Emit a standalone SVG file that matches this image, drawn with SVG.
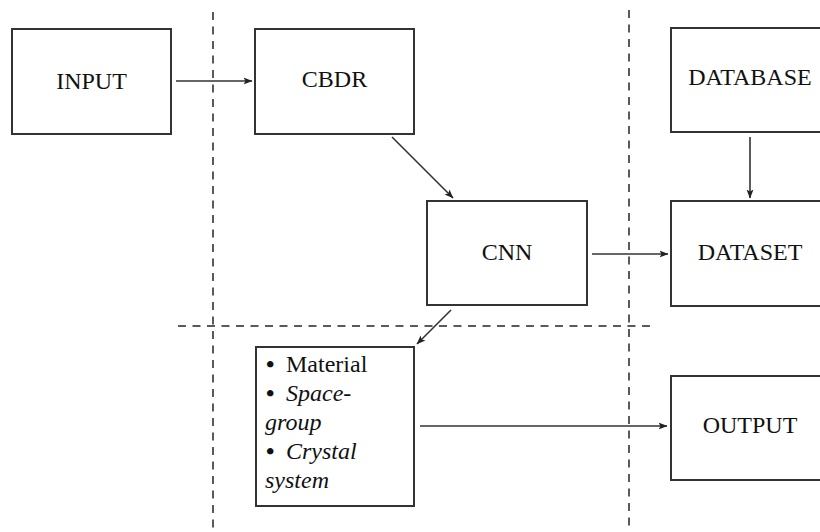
<svg xmlns="http://www.w3.org/2000/svg" width="820" height="532" viewBox="0 0 820 532">
<style>
.box{fill:#fff;stroke:#333;stroke-width:2}
.lbl{font-family:"Liberation Serif","Times New Roman",serif;font-size:24px;fill:#111;text-anchor:middle}
.lst{font-family:"Liberation Serif","Times New Roman",serif;font-size:24px;fill:#111}
.it{font-style:italic}
.bul{font-weight:bold}
.conn{stroke:#333;stroke-width:1.6;fill:none;marker-end:url(#ah)}
.dash{stroke:#5a5a5a;stroke-width:2;stroke-dasharray:8 6.5;fill:none}
</style>
<defs>
<marker id="ah" markerUnits="userSpaceOnUse" markerWidth="9" markerHeight="9" viewBox="0 0 9 9" refX="8.5" refY="4.5" orient="auto">
<path d="M0,1 L9,4.5 L0,8 L2,4.5 Z" fill="#222"/>
</marker>
</defs>
<g id="separators">
<line class="dash" x1="213" y1="12" x2="213" y2="532"/>
<line class="dash" x1="629" y1="10" x2="629" y2="532"/>
<line class="dash" x1="178" y1="326" x2="656" y2="326"/>
</g>
<g id="input"><rect class="box" x="12" y="29" width="159" height="105"/><text class="lbl" x="91.5" y="89">INPUT</text></g>
<g id="cbdr"><rect class="box" x="255" y="29" width="159" height="105"/><text class="lbl" x="334.5" y="87">CBDR</text></g>
<g id="database"><rect class="box" x="671" y="28" width="159" height="104"/><text class="lbl" x="750" y="85">DATABASE</text></g>
<g id="cnn"><rect class="box" x="427" y="201" width="160" height="104"/><text class="lbl" x="507" y="260">CNN</text></g>
<g id="dataset"><rect class="box" x="671" y="201" width="159" height="105"/><text class="lbl" x="750" y="260">DATASET</text></g>
<g id="results"><rect class="box" x="256" y="347" width="158" height="159"/>
<text class="lst" x="266" y="372"><tspan class="bul">•</tspan><tspan x="286">Material</tspan></text>
<text class="lst" x="266" y="401"><tspan class="bul">•</tspan><tspan x="286" class="it">Space-</tspan></text>
<text class="lst it" x="265" y="430">group</text>
<text class="lst" x="266" y="459"><tspan class="bul">•</tspan><tspan x="286" class="it">Crystal</tspan></text>
<text class="lst it" x="265" y="488">system</text>
</g>
<g id="output"><rect class="box" x="671" y="376" width="159" height="104"/><text class="lbl" x="750" y="433">OUTPUT</text></g>
<g id="connectors">
<line class="conn" x1="176" y1="81" x2="252" y2="81"/>
<line class="conn" x1="392" y1="137" x2="453" y2="198"/>
<line class="conn" x1="592" y1="254" x2="668" y2="254"/>
<line class="conn" x1="750" y1="137" x2="750" y2="198"/>
<line class="conn" x1="451" y1="310" x2="417" y2="344"/>
<line class="conn" x1="420" y1="426" x2="667" y2="426"/>
</g>
</svg>
